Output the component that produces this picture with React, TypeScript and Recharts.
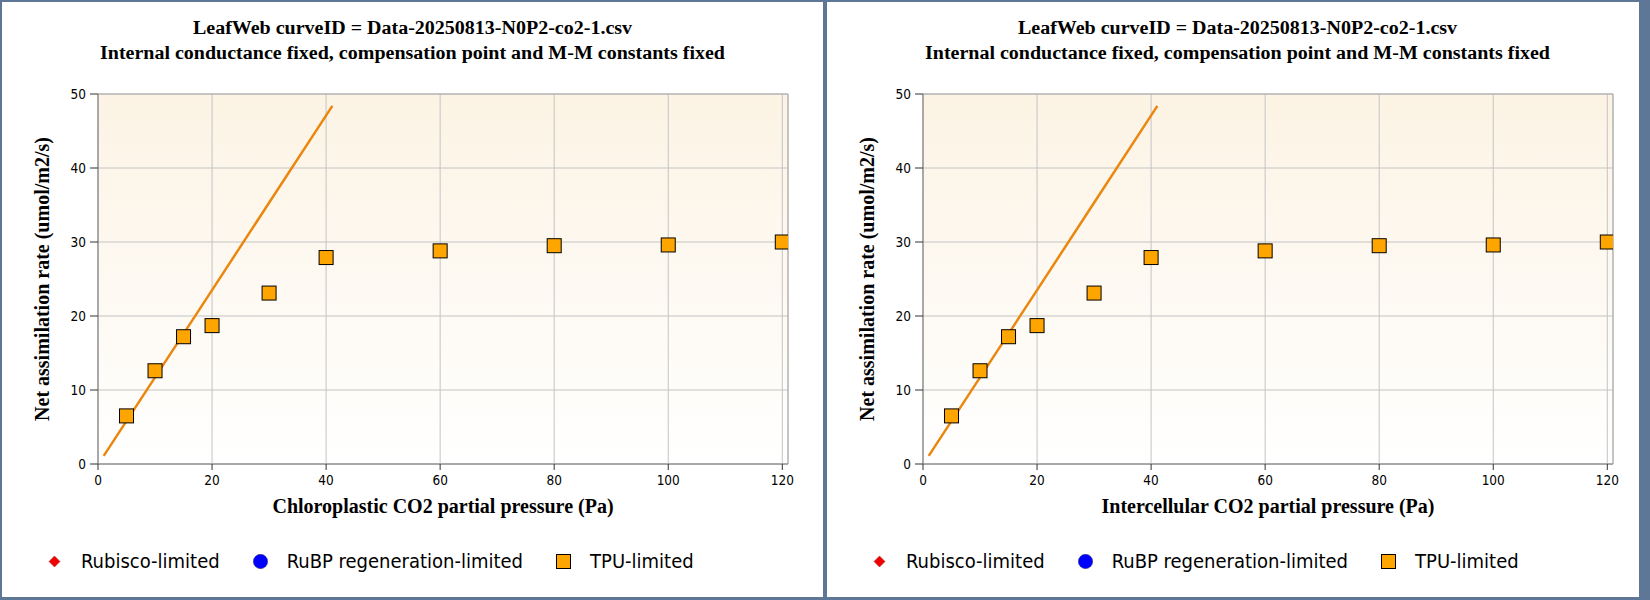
import {
  ComposedChart,
  Line,
  Scatter,
  XAxis,
  YAxis,
  CartesianGrid,
  ReferenceArea,
  Label,
} from "recharts";

const TITLE_LINES = [
  "LeafWeb curveID = Data-20250813-N0P2-co2-1.csv",
  "Internal conductance fixed, compensation point and M-M constants fixed",
];
const X_LABELS = ["Chloroplastic CO2 partial pressure (Pa)", "Intercellular CO2 partial pressure (Pa)"];
const Y_LABEL = "Net assimilation rate (umol/m2/s)";

const X_TICKS = [0, 20, 40, 60, 80, 100, 120];
const Y_TICKS = [0, 10, 20, 30, 40, 50];

// measured points (TPU-limited)
const PRESSURE = [5, 10, 15, 20, 30, 40, 60, 80, 100, 120];
const TPU_LIMITED = [6.5, 12.6, 17.2, 18.7, 23.1, 27.9, 28.8, 29.5, 29.6, 30.0];

// fitted curve
const FIT_X = [1, 10, 20, 30, 41.1];
const FIT_Y = [1.1, 11.7, 23.5, 35.3, 48.4];

const LEGEND = [
  { name: "Rubisco-limited", color: "#f00000", symbol: "diamond" },
  { name: "RuBP regeneration-limited", color: "#0000ff", symbol: "circle" },
  { name: "TPU-limited", color: "#ffa500", symbol: "square" },
];

const tpuData = PRESSURE.map((x, i) => ({ x, y: TPU_LIMITED[i] }));
const fitData = FIT_X.map((x, i) => ({ x, y: FIT_Y[i] }));

const SERIF = "'Liberation Serif', 'Times New Roman', serif";
const SANS = "'DejaVu Sans Condensed', 'DejaVu Sans', sans-serif";
const FRAME = "#5e7797";
const CHART_W = 821;
const CHART_H = 595;

const labelStyle = { fontFamily: SERIF, fontWeight: "bold", fontSize: 20, fill: "#000" };
const tickStyle = { fill: "#000", fontSize: 13.5, fontFamily: SANS };

function SquareMarker(props: any) {
  const { cx, cy } = props;
  return <rect x={cx - 7} y={cy - 7} width={14} height={14} fill="#ffa500" stroke="#000" strokeWidth={1} />;
}

function LegendIcon({ symbol, color }: { symbol: string; color: string }) {
  return (
    <svg width={15} height={15} style={{ display: "block" }}>
      {symbol === "diamond" && <path d="M7.5 2 L13 7.5 L7.5 13 L2 7.5 Z" fill={color} stroke="#a33" strokeWidth={0.6} />}
      {symbol === "circle" && <circle cx={7.5} cy={7.5} r={7.2} fill={color} stroke="#336" strokeWidth={0.5} />}
      {symbol === "square" && <rect x={0.5} y={0.5} width={14} height={14} fill={color} stroke="#000" strokeWidth={1} />}
    </svg>
  );
}

function Panel({ left, width, xLabel, id }: { left: number; width: number; xLabel: string; id: string }) {
  return (
    <div
      style={{
        position: "absolute",
        left,
        top: 2,
        width,
        height: CHART_H,
        background: "#fff",
        overflow: "hidden",
      }}
    >
      <ComposedChart width={CHART_W} height={CHART_H} margin={{ top: 92, right: 35, bottom: 73, left: 26 }}>
        <defs>
          <linearGradient id={id} x1="0" y1="0" x2="0" y2="1">
            <stop offset="0%" stopColor="#fcf3e4" />
            <stop offset="100%" stopColor="#ffffff" />
          </linearGradient>
        </defs>
        <CartesianGrid stroke="#c4c4c4" fill={`url(#${id})`} fillOpacity={1} />
        <ReferenceArea x1={0} x2={121} y1={0} y2={50} fill="none" stroke="#a9a9a9" />
        <XAxis
          type="number"
          dataKey="x"
          domain={[0, 121]}
          ticks={X_TICKS}
          allowDataOverflow
          height={60}
          tickSize={6}
          tickMargin={5}
          axisLine={{ stroke: "#8c8c8c" }}
          tickLine={{ stroke: "#333" }}
          tick={tickStyle}
        >
          <Label value={xLabel} position="insideBottom" offset={11} style={labelStyle} />
        </XAxis>
        <YAxis
          type="number"
          dataKey="y"
          domain={[0, 50]}
          ticks={Y_TICKS}
          allowDataOverflow
          width={70}
          tickSize={8}
          tickMargin={4}
          axisLine={{ stroke: "#8c8c8c" }}
          tickLine={{ stroke: "#333" }}
          tick={tickStyle}
        >
          <Label
            value={Y_LABEL}
            angle={-90}
            position="insideLeft"
            offset={14}
            style={{ ...labelStyle, textAnchor: "middle" }}
          />
        </YAxis>
        <Line
          data={fitData}
          dataKey="y"
          type="linear"
          stroke="#ea8710"
          strokeWidth={2.5}
          dot={false}
          activeDot={false}
          isAnimationActive={false}
        />
        <Scatter data={tpuData} dataKey="y" shape={SquareMarker} isAnimationActive={false} />
      </ComposedChart>

      <div style={{ position: "absolute", top: 12.5, left: 0, width: CHART_W, textAlign: "center" }}>
        {TITLE_LINES.map((t) => (
          <div
            key={t}
            style={{
              fontFamily: SERIF,
              fontWeight: "bold",
              fontSize: 20,
              lineHeight: "25px",
              whiteSpace: "nowrap",
              transform: "scaleY(0.94)",
            }}
          >
            {t}
          </div>
        ))}
      </div>

      <div
        style={{
          position: "absolute",
          top: 547,
          left: 45,
          height: 24,
          display: "flex",
          alignItems: "center",
          fontFamily: SANS,
          fontSize: 20,
          color: "#000",
          whiteSpace: "nowrap",
        }}
      >
        {LEGEND.map((s) => (
          <div key={s.name} style={{ display: "flex", alignItems: "center", marginRight: 33 }}>
            <LegendIcon symbol={s.symbol} color={s.color} />
            <span style={{ marginLeft: 19 }}>{s.name}</span>
          </div>
        ))}
      </div>
    </div>
  );
}

export default function App() {
  return (
    <div style={{ position: "relative", width: 1650, height: 600, background: FRAME }}>
      <style>{"body{margin:0}"}</style>
      <Panel left={2} width={821} xLabel={X_LABELS[0]} id="plotBg1" />
      <Panel left={827} width={812} xLabel={X_LABELS[1]} id="plotBg2" />
    </div>
  );
}
